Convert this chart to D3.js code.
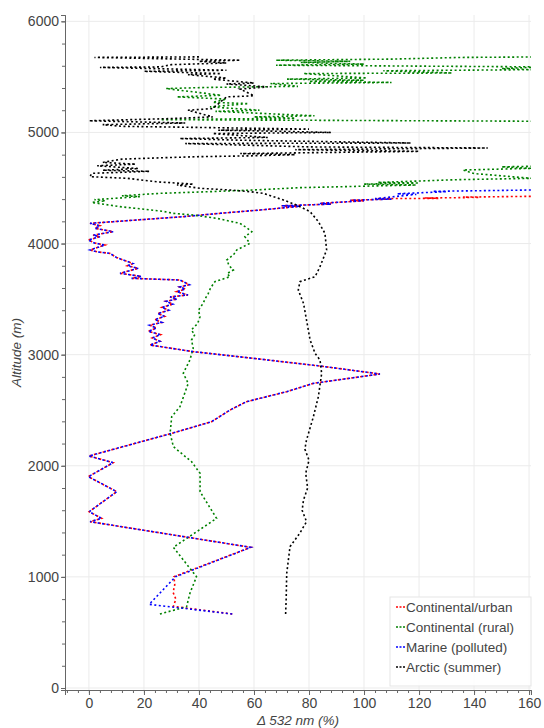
<!DOCTYPE html>
<html>
<head>
<meta charset="utf-8">
<script src="https://cdn.jsdelivr.net/npm/d3@7"></script>
<style>
  body { margin: 0; background: #fff; }
  text { font-family: "Liberation Sans", Helvetica, Arial, sans-serif; }
</style>
</head>
<body>
<div id="chart"></div>
<script>
// [delta 532 nm (%), altitude (m)], bottom to top
const urban = [
  [52.1, 666], [30.7, 735], [31.6, 800], [30.6, 860], [31.2, 930], [30.9, 1002],
  [58.8, 1266], [0.4, 1497], [4.6, 1527], [0.1, 1587], [10.1, 1767], [-0.2, 1902],
  [8.8, 2028], [0, 2088], [30.1, 2292], [44.6, 2397], [51.3, 2502], [57.3, 2577],
  [71.9, 2667], [81.6, 2742], [105.8, 2826], [84, 2898], [59.7, 2967], [37.9, 3027],
  [22.2, 3087], [25.8, 3120], [23, 3150], [26, 3180], [21.6, 3210], [24.5, 3240],
  [22, 3265], [26.5, 3290], [24, 3315], [27.5, 3345], [25, 3370], [29, 3400],
  [26.5, 3425], [30.5, 3455], [28, 3480], [32, 3500], [29.5, 3520], [36, 3537],
  [31.9, 3567], [35, 3590], [33, 3610], [36.5, 3630], [33.1, 3672], [15.5, 3687],
  [19, 3705], [11.3, 3732], [17.9, 3777], [14, 3800], [16, 3820], [12.5, 3852],
  [10, 3875], [7.6, 3912], [3, 3925], [0.4, 3942], [5.8, 3987], [2, 4005],
  [-0.2, 4032], [4, 4062], [1.5, 4075], [8.8, 4107], [2.2, 4137], [4, 4160],
  [0.4, 4182], [34.3, 4242], [47.6, 4272], [62.2, 4302], [76.7, 4335], [70, 4340],
  [88, 4355], [84, 4362], [100, 4385], [95, 4390], [110, 4400], [104, 4404],
  [127, 4407], [122, 4410], [142, 4415], [136, 4418], [161, 4425]
];
const rural = [
  [25.8, 666], [35.5, 732], [36.7, 852], [39.1, 1002], [30.7, 1266], [46.4, 1527],
  [40.4, 1767], [40.4, 1932], [37.3, 2037], [30.7, 2172], [29.5, 2292], [30.1, 2442],
  [33.1, 2532], [36.1, 2742], [34.3, 2832], [36.7, 2952], [37.9, 3057], [37.3, 3132],
  [38.5, 3180], [37.2, 3222], [39.5, 3280], [40.4, 3342], [39.8, 3400], [41.5, 3462],
  [42.4, 3510], [43.4, 3552], [44.2, 3600], [45.8, 3657], [51.3, 3702], [50.2, 3730],
  [52.5, 3762], [51, 3800], [50.1, 3852], [52.6, 3900], [53.7, 3942], [58.5, 4002],
  [56.7, 4062], [59.2, 4107], [57.5, 4140], [54.9, 4182], [46.4, 4227], [37.9, 4257],
  [30.7, 4272], [27, 4290], [11.3, 4332], [1, 4370], [6, 4385], [2, 4395],
  [18.5, 4422], [12, 4430], [25.8, 4452], [44, 4467], [59.7, 4482], [76.7, 4503],
  [92.5, 4512], [119, 4527], [100, 4535], [120, 4545], [105, 4550], [134, 4575],
  [161, 4587], [140, 4630], [136, 4662], [161, 4677], [150, 4690], [170, 4700],
  [170, 5100], [26, 5115], [75, 5128], [60, 5140], [82, 5150], [46, 5190],
  [62, 5200], [44, 5230], [58, 5260], [45, 5270], [50, 5300], [32, 5320],
  [48, 5335], [28, 5395], [43, 5405], [76, 5415], [66, 5440], [110, 5450],
  [80, 5460], [100, 5470], [72, 5480], [101, 5490], [78, 5530], [132, 5535],
  [107, 5555], [161, 5565], [150, 5575], [165, 5590], [68, 5605], [100, 5615],
  [77, 5630], [95, 5640], [68, 5650], [110, 5660], [135, 5675], [165, 5680]
];
const marine = [
  [52.1, 666], [21.9, 753], [31.5, 1002],
  [58.8, 1266], [0.4, 1497], [4.6, 1527], [0.1, 1587], [10.1, 1767], [-0.2, 1902],
  [8.8, 2028], [0, 2088], [30.1, 2292], [44.6, 2397], [51.3, 2502], [57.3, 2577],
  [71.9, 2667], [81.6, 2742], [105.8, 2826], [84, 2898], [59.7, 2967], [37.9, 3027],
  [22.2, 3087], [25.8, 3120], [23, 3150], [26, 3180], [21.6, 3210], [24.5, 3240],
  [22, 3265], [26.5, 3290], [24, 3315], [27.5, 3345], [25, 3370], [29, 3400],
  [26.5, 3425], [30.5, 3455], [28, 3480], [32, 3500], [29.5, 3520], [36, 3537],
  [31.9, 3567], [35, 3590], [33, 3610], [36.5, 3630], [33.1, 3672], [15.5, 3687],
  [19, 3705], [11.3, 3732], [17.9, 3777], [14, 3800], [16, 3820], [12.5, 3852],
  [10, 3875], [7.6, 3912], [3, 3925], [0.4, 3942], [5.8, 3987], [2, 4005],
  [-0.2, 4032], [4, 4062], [1.5, 4075], [8.8, 4107], [2.2, 4137], [4, 4160],
  [0.4, 4182], [34.3, 4242], [47.6, 4272], [62.2, 4302], [76.7, 4335], [70, 4340],
  [88, 4355], [84, 4362], [100, 4385], [95, 4390], [110, 4400], [104, 4404],
  [119, 4443], [112, 4448], [130, 4467], [125, 4470], [161, 4482]
];
const arctic = [
  [71.5, 666], [71.7, 800], [71.9, 1032], [73.1, 1272], [76.7, 1395], [79.1, 1497],
  [77.5, 1600], [78, 1692], [79.5, 1800], [78.8, 1932], [80, 2050], [78.5, 2150],
  [79.1, 2232], [81.6, 2442], [83.4, 2622], [84.6, 2832], [84, 2952], [82.2, 3012],
  [80.4, 3132], [79.1, 3312], [78, 3462], [76.1, 3582], [76.7, 3657], [82.2, 3702],
  [84, 3792], [86.4, 3942], [85.8, 4092], [83.4, 4197], [80.4, 4287], [75.5, 4347],
  [70.7, 4392], [63.4, 4452], [58.5, 4467], [51.3, 4482], [40.4, 4497], [32, 4527],
  [38, 4535], [25, 4555], [14, 4587], [0.4, 4602], [1, 4632], [22, 4650],
  [5, 4660], [18, 4675], [3, 4700], [17, 4715], [5, 4730], [12, 4760],
  [30, 4775], [40, 4782], [60, 4790], [75, 4800], [55, 4810], [120, 4830],
  [75, 4845], [145, 4860], [80, 4870], [35, 4900], [117, 4905], [55, 4930],
  [33, 4945], [65, 4955], [45, 4990], [88, 5000], [70, 5010], [47, 5020],
  [80, 5030], [40, 5045], [12, 5055], [5, 5070], [35, 5085], [0, 5105],
  [30, 5125], [45, 5140], [36, 5200], [45, 5215], [50, 5320], [60, 5330],
  [55, 5390], [65, 5410], [50, 5436], [60, 5445], [45, 5480], [50, 5490],
  [36, 5520], [48, 5530], [20, 5550], [50, 5560], [4, 5585], [26, 5590],
  [30, 5610], [50, 5625], [40, 5640], [55, 5650], [2, 5675], [40, 5680]
];

const seriesNames = ['Continental/urban', 'Continental (rural)', 'Marine (polluted)', 'Arctic (summer)'];
const seriesColors = ['#ff0000', '#008000', '#0000ff', '#000000'];
const seriesData = [urban, rural, marine, arctic];

const xTicks = [0, 20, 40, 60, 80, 100, 120, 140, 160];
const yTicks = [0, 1000, 2000, 3000, 4000, 5000, 6000];

const W = 544, H = 728;
const margin = { top: 15, right: 13, bottom: 38, left: 65 };
const width = W - margin.left - margin.right;
const height = H - margin.top - margin.bottom;

const svg = d3.select('#chart').append('svg')
  .attr('width', W)
  .attr('height', H);

const g = svg.append('g')
  .attr('transform', `translate(${margin.left},${margin.top})`);

const xScale = d3.scaleLinear().domain([-8.7, 160.7]).range([0, width]);
const yScale = d3.scaleLinear().domain([-18, 6057]).range([height, 0]);

// grid
g.append('g').selectAll('line').data(xTicks).join('line')
  .attr('x1', d => xScale(d)).attr('x2', d => xScale(d))
  .attr('y1', 0).attr('y2', height)
  .attr('stroke', '#ebebeb').attr('stroke-width', 1);
g.append('g').selectAll('line').data(yTicks).join('line')
  .attr('y1', d => yScale(d)).attr('y2', d => yScale(d))
  .attr('x1', 0).attr('x2', width)
  .attr('stroke', '#ebebeb').attr('stroke-width', 1);

// lines, clipped to the plot frame
g.append('defs').append('clipPath').attr('id', 'clip')
  .append('rect').attr('width', width).attr('height', height);

const line = d3.line()
  .x(d => xScale(d[0]))
  .y(d => yScale(d[1]));

const plot = g.append('g').attr('clip-path', 'url(#clip)');
seriesData.forEach((pts, i) => {
  plot.append('path')
    .datum(pts)
    .attr('fill', 'none')
    .attr('stroke', seriesColors[i])
    .attr('stroke-width', 1.6)
    .attr('stroke-dasharray', '2,2.5')
    .attr('d', line);
});

// axes
const axisColor = '#666';
const labelColor = '#444';

const xAxis = g.append('g')
  .attr('transform', `translate(0,${height})`)
  .call(d3.axisBottom(xScale).tickValues(xTicks).tickSize(5).tickPadding(3));
xAxis.append('g')
  .call(d3.axisBottom(xScale).tickValues(d3.range(-8, 161, 4)).tickSize(3).tickFormat(''));

const yAxis = g.append('g')
  .call(d3.axisLeft(yScale).tickValues(yTicks).tickSize(4).tickPadding(2).tickFormat(d3.format('d')));
yAxis.append('g')
  .call(d3.axisLeft(yScale).tickValues(d3.range(0, 6001, 200)).tickSize(3).tickFormat(''));

[xAxis, yAxis].forEach(ax => {
  ax.selectAll('path').attr('stroke', axisColor);
  ax.selectAll('line').attr('stroke', axisColor);
  ax.selectAll('text')
    .attr('fill', labelColor)
    .style('font-size', '14px')
    .style('font-family', '"Liberation Sans", Helvetica, Arial, sans-serif');
});

svg.append('text')
  .attr('x', margin.left + width / 2)
  .attr('y', 725)
  .attr('text-anchor', 'middle')
  .attr('fill', labelColor)
  .style('font-size', '13.5px')
  .style('font-style', 'italic')
  .text('Δ 532 nm (%)');

svg.append('text')
  .attr('transform', `translate(21,${margin.top + height / 2}) rotate(-90)`)
  .attr('text-anchor', 'middle')
  .attr('fill', labelColor)
  .style('font-size', '13.5px')
  .style('font-style', 'italic')
  .text('Altitude (m)');

// legend
const legend = svg.append('g').attr('transform', 'translate(390,597)');
legend.append('rect')
  .attr('width', 141).attr('height', 89)
  .attr('fill', '#fff').attr('fill-opacity', 0.9)
  .attr('stroke', '#e5e5e5');
seriesNames.forEach((name, i) => {
  const y = 14 + i * 20;
  legend.append('line')
    .attr('x1', 6).attr('x2', 16)
    .attr('y1', y - 4).attr('y2', y - 4)
    .attr('stroke', seriesColors[i])
    .attr('stroke-width', 1.6)
    .attr('stroke-dasharray', '2,1.5');
  legend.append('text')
    .attr('x', 16).attr('y', y + 1)
    .attr('fill', labelColor)
    .style('font-size', '13.5px')
    .text(name);
});
</script>
</body>
</html>
